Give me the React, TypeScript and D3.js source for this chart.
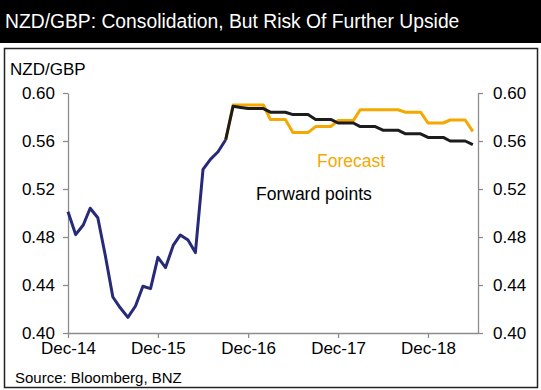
import React, { useEffect, useRef } from "react";
import * as d3 from "d3";

// monthly NZD/GBP, starting Dec-14
const histStart = "2014-12-01";
const histValues = [
  0.501, 0.482, 0.49, 0.504, 0.496, 0.465, 0.43, 0.421, 0.413, 0.4225, 0.439, 0.437,
  0.463, 0.4545, 0.473, 0.4817, 0.4775, 0.467, 0.5364, 0.5447, 0.551, 0.561,
];

// projections start at the last actual (Sep-16)
const projStart = "2016-09-01";
const forwardValues = [
  0.561, 0.589, 0.588, 0.587, 0.587, 0.587, 0.584, 0.584, 0.584, 0.582, 0.582, 0.582,
  0.578, 0.578, 0.578, 0.575, 0.575, 0.575, 0.572, 0.572, 0.572, 0.569, 0.569, 0.569,
  0.566, 0.566, 0.566, 0.563, 0.563, 0.563, 0.56, 0.56, 0.56, 0.557,
];
const forecastValues = [
  0.561, 0.59, 0.59, 0.59, 0.59, 0.59, 0.578, 0.578, 0.578, 0.567, 0.567, 0.567,
  0.572, 0.572, 0.572, 0.577, 0.577, 0.577, 0.586, 0.586, 0.586, 0.586, 0.586, 0.586,
  0.584, 0.584, 0.584, 0.575, 0.575, 0.575, 0.5775, 0.5775, 0.5775, 0.568,
];

const yTicks = [0.4, 0.44, 0.48, 0.52, 0.56, 0.6];
const xTicks = ["2014-12-01", "2015-12-01", "2016-12-01", "2017-12-01", "2018-12-01"];

const FONT = "'Liberation Sans', Arial, sans-serif";

function toPoints(start: string, values: number[]) {
  const d0 = new Date(start + "T00:00:00");
  return values.map((v, i) => ({ date: d3.timeMonth.offset(d0, i), value: v }));
}

export default function App() {
  const ref = useRef<SVGSVGElement>(null);

  useEffect(() => {
    const svg = d3.select(ref.current);
    svg.selectAll("*").remove();

    const width = 541;
    const left = 68, right = 478, top = 93, bottom = 333;

    // title bar
    svg.append("rect").attr("x", 0).attr("y", 0).attr("width", width).attr("height", 43).attr("fill", "#000");
    svg.append("text")
      .attr("x", 5).attr("y", 28)
      .attr("fill", "#fff")
      .style("font", `19.3px ${FONT}`)
      .text("NZD/GBP: Consolidation, But Risk Of Further Upside");

    // frame
    svg.append("rect")
      .attr("x", 4.5).attr("y", 48.5).attr("width", 533).attr("height", 339)
      .attr("fill", "none").attr("stroke", "#222").attr("stroke-width", 1.5);

    const x = d3.scaleTime()
      .domain([new Date("2014-12-01T00:00:00"), new Date("2019-06-22T00:00:00")])
      .range([left, right]);
    const y = d3.scaleLinear().domain([0.4, 0.6]).range([bottom, top]);

    const axisColor = "#8c8c8c";
    const styleAxis = (g: any) => {
      g.select(".domain").attr("stroke", axisColor).attr("stroke-width", 1.3);
      g.selectAll(".tick line").attr("stroke", axisColor).attr("stroke-width", 1.3);
      g.selectAll(".tick text").attr("fill", "#000").style("font", `17px ${FONT}`);
    };

    const fmt = d3.format(".2f");
    svg.append("g")
      .attr("transform", `translate(${left},0)`)
      .call(d3.axisLeft(y).tickValues(yTicks).tickFormat((d: any) => fmt(d)).tickSize(5).tickSizeOuter(0).tickPadding(8))
      .call(styleAxis);
    svg.append("g")
      .attr("transform", `translate(${right},0)`)
      .call(d3.axisRight(y).tickValues(yTicks).tickFormat((d: any) => fmt(d)).tickSize(5).tickSizeOuter(0).tickPadding(10))
      .call(styleAxis);
    svg.append("g")
      .attr("transform", `translate(0,${bottom})`)
      .call(d3.axisBottom(x)
        .tickValues(xTicks.map((s) => new Date(s + "T00:00:00")))
        .tickFormat((d: any) => d3.timeFormat("%b-%y")(d))
        .tickSize(5).tickSizeOuter(0).tickPadding(4))
      .call(styleAxis);

    const line = d3.line<{ date: Date; value: number }>()
      .x((d) => x(d.date))
      .y((d) => y(d.value));

    const drawLine = (pts: any, color: string) =>
      svg.append("path")
        .datum(pts)
        .attr("d", line)
        .attr("fill", "none")
        .attr("stroke", color)
        .attr("stroke-width", 3)
        .attr("stroke-linejoin", "round");

    drawLine(toPoints(histStart, histValues), "#262a78");
    drawLine(toPoints(projStart, forecastValues), "#f5a800");
    drawLine(toPoints(projStart, forwardValues), "#1c1c1c");

    // labels
    svg.append("text").attr("x", 10).attr("y", 75).style("font", `17px ${FONT}`).text("NZD/GBP");
    svg.append("text").attr("x", 317).attr("y", 167).attr("fill", "#f5a800").style("font", `17.5px ${FONT}`).text("Forecast");
    svg.append("text").attr("x", 256).attr("y", 200).attr("fill", "#000").style("font", `17.5px ${FONT}`).text("Forward points");
    svg.append("text").attr("x", 15).attr("y", 383).style("font", `15px ${FONT}`).text("Source: Bloomberg, BNZ");
  }, []);

  return (
    <svg
      ref={ref}
      width={541}
      height={390}
      style={{ position: "absolute", left: 0, top: 0, background: "#fff" }}
    />
  );
}
